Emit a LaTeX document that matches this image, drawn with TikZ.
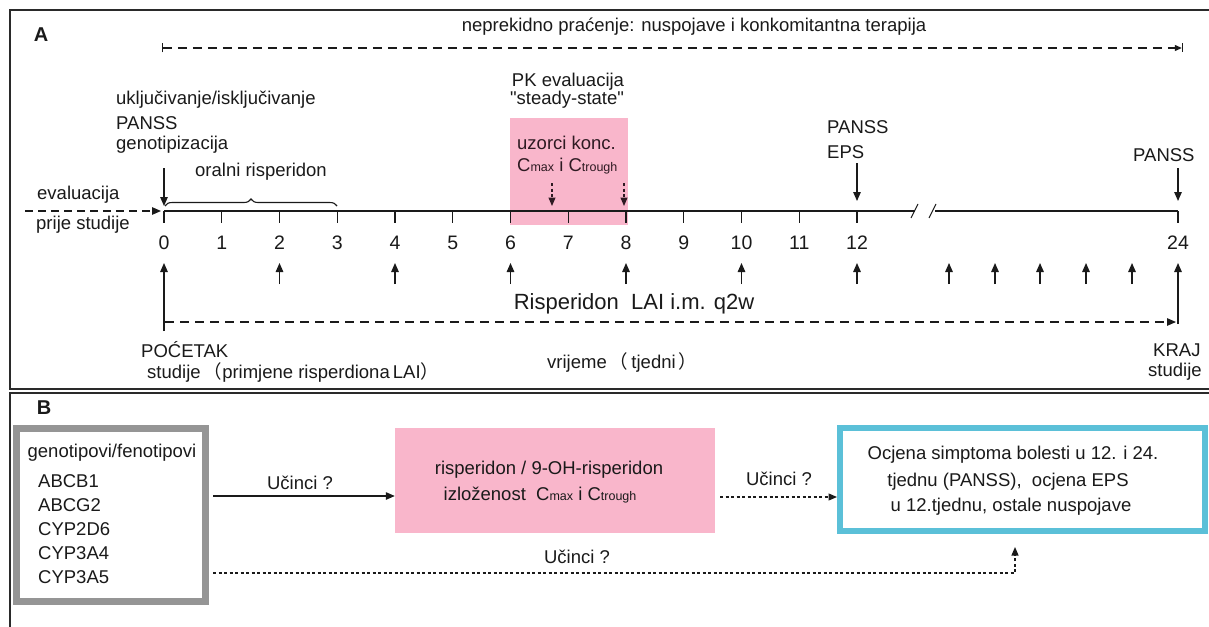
\documentclass[tikz,border=0pt]{standalone}
\usepackage{fontspec}
\setmainfont{Liberation Sans}
\newfontfamily\cjkfont{Noto Sans CJK SC}
\usetikzlibrary{arrows.meta,decorations.pathreplacing}
\definecolor{txt}{HTML}{1A1A1A}
\definecolor{pinkbox}{HTML}{F9B6CB}
\definecolor{pinktxt}{HTML}{2E1A22}
\definecolor{cyanbox}{HTML}{5BC0D8}
\definecolor{graybox}{HTML}{959595}
\definecolor{framec}{HTML}{2A2A2A}
\newcommand{\subC}[1]{C{\fontsize{12.5}{13}\selectfont #1}}
\newcommand{\fwl}{{\cjkfont （}}
\newcommand{\fwr}{{\cjkfont ）}}
\tikzset{
  lab/.style={font=\fontsize{18.5}{22}\selectfont, inner sep=0pt, text=txt},
  labw/.style={lab, anchor=west},
  num/.style={font=\fontsize{19.5}{22}\selectfont, inner sep=0pt, text=txt},
  big/.style={font=\fontsize{22}{24}\selectfont, inner sep=0pt, text=txt},
  panel/.style={font=\fontsize{20}{22}\selectfont\bfseries, inner sep=0pt, text=txt},
  frame/.style={draw=framec, line width=1.6pt},
  ax/.style={draw=txt, line width=1.3pt},
  arr/.style={draw=txt, line width=1.3pt, -{Triangle[length=9pt,width=7.5pt]}},
  dasharr/.style={arr, dash pattern=on 9pt off 6pt},
  dotarr/.style={arr, line width=1.2pt, dash pattern=on 3pt off 2.5pt, -{Triangle[length=8.5pt,width=7pt]}},
}
\begin{document}
\begin{tikzpicture}[x=1pt,y=-1pt]
\useasboundingbox (0,0) rectangle (1209,626);
\clip (0,0) rectangle (1209,626);
\fill[white] (0,0) rectangle (1209,626);

% frames
\draw[frame] (10,10) rectangle (1240,389);
\draw[frame] (10,393) rectangle (1240,660);

% ---------------- Panel A ----------------
\node[panel] (pA) at (41,35) {A};
\node[lab] (title) at (694,27) {neprekidno praćenje: nuspojave i konkomitantna terapija};
\coordinate (topS) at (162,48);
\coordinate (topE) at (1183,48);
\draw[draw=txt, line width=1.2pt, dash pattern=on 9pt off 6pt, {Bar[width=9pt]}-{Triangle[length=7pt,width=6pt]Bar[width=9pt]}] (topS) -- (topE);

% pink box
\fill[pinkbox] (510,118) rectangle (628,225);
\node[lab] (pk1) at (568,82) {PK evaluacija};
\node[lab] (pk2) at (567,100) {\textquotedbl steady-state\textquotedbl};
\node[labw, text=pinktxt] (uz1) at (517,143) {uzorci konc.};
\node[labw, text=pinktxt] (uz2) at (517,166) {\subC{max} i \subC{trough}};

% left texts
\node[labw] (inc1) at (116,100) {uključivanje/isključivanje};
\node[labw] (inc2) at (116,123) {PANSS};
\node[labw] (inc3) at (116,145) {genotipizacija};
\node[lab] (oral) at (261,172) {oralni risperidon};
\node[labw] (ev1) at (37,195) {evaluacija};
\node[labw] (ev2) at (36,225) {prije studije};

% ticks and axis
\foreach \i in {0,...,12} {
  \coordinate (t\i) at ({164+57.75*\i},211);
  \draw[ax] (t\i) -- ++(0,12);
  \node[num] (n\i) at ({164+57.75*\i},243) {\i};
}
\coordinate (t24) at (1178,211);
\draw[ax] (t24) -- ++(0,12);
\node[num] (n24) at (1178,243) {24};
\coordinate (brk1) at (915,211);
\coordinate (brk2) at (935,211);
\draw[ax] (t0) -- (brk1);
\draw[ax] (brk2) -- (t24);
\draw[draw=txt, line width=1pt] (911,218) -- (918,204);
\draw[draw=txt, line width=1pt] (929,218) -- (936,204);

% brace
\coordinate (brS) at (165,206);
\coordinate (brE) at (337,206);
\draw[draw=txt, line width=1.1pt, decorate, decoration={brace, amplitude=7pt}] (brS) -- (brE);

% arrows above axis
\coordinate (a0s) at (164,168);
\coordinate (a0e) at (164,206);
\draw[arr] (a0s) -- (a0e);
\coordinate (evs) at (25,211);
\coordinate (eve) at (161,211);
\draw[dasharr, dash pattern=on 8pt off 5pt] (evs) -- (eve);
\coordinate (d1s) at (552,183);
\coordinate (d1e) at (552,206);
\coordinate (d2s) at (624,183);
\coordinate (d2e) at (624,206);
\draw[dotarr, draw=pinktxt] (d1s) -- (d1e);
\draw[dotarr, draw=pinktxt] (d2s) -- (d2e);

\node[labw] (p12a) at (827,127) {PANSS};
\node[labw] (p12b) at (827,152) {EPS};
\coordinate (a12s) at (857,163);
\coordinate (a12e) at (857,201);
\draw[arr] (a12s) -- (a12e);
\node[labw] (p24) at (1133,155) {PANSS};
\coordinate (a24s) at (1178,168);
\coordinate (a24e) at (1178,201);
\draw[arr] (a24s) -- (a24e);

% injection arrows
\foreach \k/\xx in {2/{279.5},4/{395},6/{510.5},8/{626},10/{741.5},12/{857},13/949,14/995,15/1040,16/1086,17/1132} {
  \coordinate (ua\k) at (\xx,284);
  \coordinate (ub\k) at (\xx,263);
  \draw[arr] (ua\k) -- (ub\k);
}
\coordinate (L0s) at (164,331);
\coordinate (L0e) at (164,263);
\draw[arr] (L0s) -- (L0e);
\coordinate (L24s) at (1178,324);
\coordinate (L24e) at (1178,263);
\draw[arr] (L24s) -- (L24e);

\node[big] (risp) at (634,304) {Risperidon\ \ LAI i.m. q2w};
\coordinate (dbs) at (165,322);
\coordinate (dbe) at (1176,322);
\draw[dasharr, line width=1.2pt] (dbs) -- (dbe);

\node[labw] (poc) at (141,350) {POĆETAK};
\node[labw] (poc2) at (147,372) {studije\,\fwl primjene risperdiona\,LAI\fwr};
\node[labw] (vrij) at (547,362) {vrijeme\,\fwl\,tjedni\,\fwr};
\node[labw] (kraj) at (1153,350) {KRAJ};
\node[labw] (kraj2) at (1148,372) {studije};

% ---------------- Panel B ----------------
\node[panel] (pB) at (44,408) {B};
\node[draw=graybox, line width=7pt, minimum width=189pt, minimum height=173pt, inner sep=0pt] (geno) at (111,515) {};
\node[lab] (g0) at (112,453) {genotipovi/fenotipovi};
\node[labw] (g1) at (38,481) {ABCB1};
\node[labw] (g2) at (38,505) {ABCG2};
\node[labw] (g3) at (38,529) {CYP2D6};
\node[labw] (g4) at (38,553) {CYP3A4};
\node[labw] (g5) at (38,577) {CYP3A5};

\node[fill=pinkbox, minimum width=320pt, minimum height=105pt, inner sep=0pt] (expo) at (555,480.5) {};
\node[lab] (e1) at (549,470) {risperidon / 9-OH-risperidon};
\node[lab] (e2) at (540,495) {izloženost\ \ \subC{max} i \subC{trough}};

\node[draw=cyanbox, line width=6pt, minimum width=365pt, minimum height=103pt, inner sep=0pt] (outc) at (1022.5,479.5) {};
\node[lab] (o1) at (1013,455) {Ocjena simptoma bolesti u 12. i 24.};
\node[lab] (o2) at (1008,482) {tjednu (PANSS),\ \ ocjena EPS};
\node[lab] (o3) at (1011,507) {u 12.tjednu, ostale nuspojave};

\coordinate (ar1s) at (213,496);
\draw[arr, line width=1.2pt] (ar1s) -- (expo.west |- ar1s);
\node[lab] (u1) at (300,483) {Učinci ?};
\coordinate (ar2s) at (720,497);
\draw[dotarr] (ar2s) -- (outc.west |- ar2s);
\node[lab] (u2) at (779,479) {Učinci ?};
\coordinate (ar3s) at (213,573);
\coordinate (ar3c) at (1015,573);
\coordinate (ar3e) at (1015,547);
\draw[dotarr] (ar3s) -- (ar3c) -- (ar3e);
\node[lab] (u3) at (577,557) {Učinci ?};
\end{tikzpicture}
\end{document}
